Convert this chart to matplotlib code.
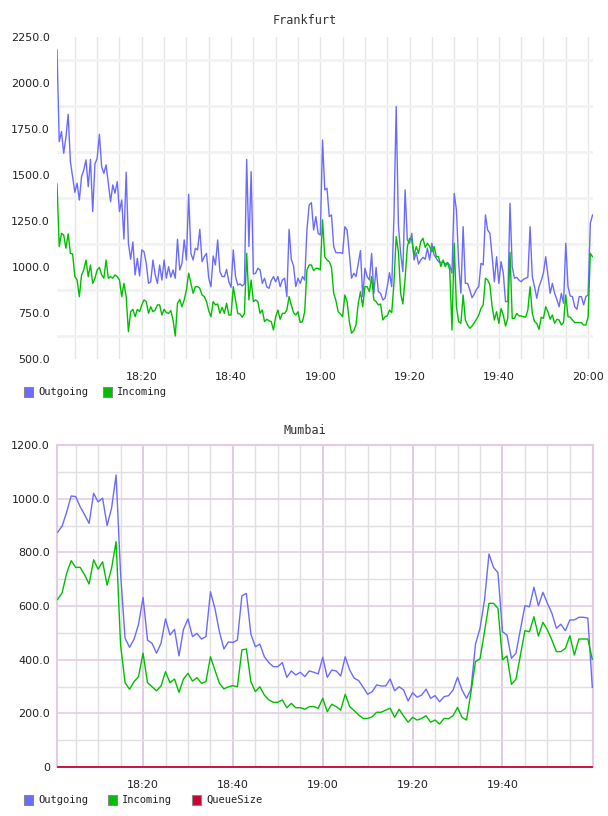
import numpy as np
import matplotlib
matplotlib.use("Agg")
import matplotlib.pyplot as plt
from matplotlib.patches import Rectangle

# Frankfurt: samples every 30 s starting 18:01
fra_out = [
    2180, 1681, 1736, 1618, 1705, 1830, 1573, 1491, 1406, 1455,
    1364, 1491, 1527, 1582, 1437, 1585, 1301, 1560, 1591, 1721,
    1546, 1509, 1555, 1455, 1355, 1446, 1401, 1464, 1301, 1364,
    1152, 1515, 1129, 1042, 1136, 957, 1047, 951, 1093, 1083,
    1020, 911, 920, 1038, 957, 911, 1011, 929, 1038, 939,
    1002, 944, 984, 939, 1151, 984, 1020, 1147, 1038, 1395,
    1074, 1038,
    1102, 1093, 1205, 1029, 1056, 1074, 939, 893, 1060, 1011,
    1147, 975, 948, 948, 987, 920, 890, 1093, 948, 902,
    908, 897, 908, 1585, 1111, 1518, 962, 966, 993, 984,
    911, 939, 893, 884, 926, 948, 920, 948, 893, 929,
    939, 839, 1205, 1042, 1006, 893, 939, 911, 948, 929,
    1201, 1337, 1350, 1201, 1274, 1183, 1174, 1690, 1419, 1428,
    1274,
    1283, 1111, 1078, 1078, 1078, 1074, 1219, 1201, 1074, 939,
    966, 948, 1020, 1089, 839, 993, 948, 929, 1074, 857,
    998, 866, 857, 821, 830, 893, 969, 893, 1274, 1872,
    1228, 1074, 975, 1419, 1147, 1129, 1183, 1038, 1078, 1016,
    1038, 1053, 1042, 1102, 1038, 1129, 1065, 1047, 1029, 1024,
    1029, 1016, 1024, 1011, 966, 1400, 1310, 1020, 857, 1219,
    911, 911, 875, 833, 853, 879, 893, 1020, 1011, 1283,
    1201, 1183, 1056, 920, 1056, 911, 1029, 966, 812, 812,
    1346, 1002, 939, 944, 929, 920, 933, 939, 944, 1219,
    948, 893, 830, 893, 926, 969, 1056, 957, 857, 911,
    857, 824, 784, 857, 803, 1129, 893, 842, 839, 784,
    770, 839, 839, 794, 839, 848, 1237, 1283,
]
fra_in = [
    1451, 1111, 1183, 1174, 1102, 1180, 1074, 1071, 948, 929,
    839, 957, 984, 1038, 948, 1011, 911, 939, 984, 998,
    957, 939, 1038, 939, 948, 939, 957, 948, 929, 839,
    911, 839, 649, 757, 770, 730, 770, 757, 794, 821,
    812, 748, 784, 757, 766, 794, 794, 739, 770, 752,
    748, 763, 712, 625, 803, 824, 784, 821, 875, 966,
    911, 857,
    893, 893, 884, 848, 839, 812, 763, 730, 812, 794,
    799, 748, 781, 748, 803, 739, 739, 893, 821, 748,
    745, 727, 748, 1074, 821, 929, 812, 821, 812, 748,
    766, 703, 716, 708, 703, 658, 730, 766, 716, 748,
    748, 766, 839, 794, 752, 739, 757, 698, 703, 757,
    984, 1011, 1011, 980, 993, 993, 984, 1256, 1056, 1038,
    1029,
    998, 857, 817, 757, 745, 730, 848, 812, 703, 640,
    654, 685, 803, 866, 784, 893, 893, 866, 948, 821,
    812, 794, 799, 712, 730, 734, 766, 752, 911, 1165,
    1083, 857, 799, 939, 1111, 1156, 1147, 1065, 1111, 1074,
    1138, 1156, 1107, 1129, 1111, 1083, 1111, 1056, 1056, 1002,
    1038, 1002, 1024, 984, 658, 1129, 784, 703, 694, 848,
    712, 685, 667, 679, 698, 716, 739, 775, 794, 939,
    929, 902, 784, 712, 757, 694, 775, 739, 679, 721,
    1080, 721, 721, 748, 734, 734, 730, 727, 766, 893,
    748, 703, 694, 661, 727, 721, 784, 757, 716, 739,
    694, 716, 712, 685, 698, 848, 730, 727, 712, 698,
    698, 698, 698, 685, 685, 727, 1074, 1056,
]

# Mumbai: one sample per minute, 18:01 .. 20:00
mum_out = [
    875, 898, 950, 1010, 1008, 970, 940, 908, 1020, 988,
    1002, 900, 965, 1088, 720, 480, 446, 476, 532, 632,
    473, 461, 424, 461, 552, 492, 513, 414, 513, 552,
    486, 498, 477, 486, 653, 591, 504, 440, 466, 464,
    473, 638, 647, 495, 448, 458, 411, 389, 374, 374,
    389, 334, 358, 343, 353, 337, 358, 353, 347, 409,
    334, 361, 358, 339, 411, 361, 331, 322, 297, 271,
    281, 306, 302, 302, 328, 284, 299, 287, 246, 277,
    260, 268, 290, 256, 266, 243, 262, 266, 287, 334,
    287, 256, 290, 458, 517, 622, 794, 744, 724, 504,
    492, 405, 424, 513, 601, 597, 670, 601, 651, 610,
    573, 517, 532, 508, 548, 548, 558, 558, 555, 297,
]
mum_in = [
    625, 650, 722, 769, 744, 744, 716, 682, 772, 737,
    765, 678, 741, 840, 455, 314, 290, 318, 337, 424,
    314, 299, 284, 302, 355, 314, 328, 278, 328, 349,
    320, 333, 312, 318, 411, 361, 312, 291, 299, 303,
    299, 436, 440, 318, 281, 299, 268, 250, 241, 241,
    250, 221, 237, 221, 221, 215, 225, 225, 219, 256,
    206, 234, 225, 212, 271, 225, 210, 194, 181, 181,
    187, 204, 204, 212, 219, 185, 215, 190, 167, 185,
    175, 181, 191, 167, 175, 160, 181, 180, 191, 222,
    185, 175, 280, 393, 403, 504, 610, 610, 591, 399,
    414, 308, 327, 417, 508, 504, 560, 488, 539, 511,
    473, 430, 430, 442, 489, 417, 477, 477, 477, 401,
]
mum_queue = [0] * len(mum_out)

fra_yticks = [500, 750, 1000, 1250, 1500, 1750, 2000, 2250]
fra_ygrid = [625, 875, 1125, 1375, 1625, 1875, 2125]
mum_yticks = [0, 200, 400, 600, 800, 1000, 1200]
mum_ygrid = [100, 300, 500, 700, 900, 1100]

BLUE = "#6b6bff"
GREEN = "#00bf00"
RED = "#cc0033"
PINK = "#e4cde4"
PINK_V = "#dcc3dc"
GRAY = "#e0e0e0"

fra_t = 1 + 0.5 * np.arange(len(fra_out))
mum_t = 1 + np.arange(len(mum_out))


def hm(m):
    return f"{18 + m // 60}:{m % 60:02d}"


W, H = 608, 816
fig = plt.figure(figsize=(W / 100, H / 100), dpi=100)


def box(l, t, r, b):
    return [l / W, 1 - b / H, (r - l) / W, (b - t) / H]


tick_font = dict(family="DejaVu Sans", size=8)
mono = "DejaVu Sans Mono"

# --- Frankfurt ---
ax1 = fig.add_axes(box(57, 37, 593, 359))
ax1.plot(fra_t, fra_out, color=BLUE, lw=1.0, zorder=3)
ax1.plot(fra_t, fra_in, color=GREEN, lw=1.0, zorder=3)
ax1.set_xlim(1, 121.1)
ax1.set_ylim(500, 2250)
ax1.set_yticks(fra_yticks)
ax1.set_yticklabels([f"{v:.1f}" for v in fra_yticks], **tick_font)
ax1.set_yticks(fra_ygrid, minor=True)
ax1.set_xticks([20, 40, 60, 80, 100, 120])
ax1.set_xticklabels([hm(m) for m in [20, 40, 60, 80, 100, 120]], **tick_font)
ax1.set_xticks(np.arange(5, 121, 5), minor=True)
ax1.yaxis.grid(True, which="minor", color="#f2f2f2", lw=2.0)
ax1.xaxis.grid(True, which="both", color="#e6e6e6", lw=1.0)
for s in ax1.spines.values():
    s.set_visible(False)
ax1.tick_params(length=0, which="both", colors="#222222")
ax1.tick_params(axis="x", pad=9)
ax1.tick_params(axis="y", pad=5)
ax1.set_axisbelow(True)
fig.text(305 / W, 1 - 20 / H, "Frankfurt", ha="center", va="center",
         family=mono, size=8.5, color="#333333")

# --- Mumbai ---
ax2 = fig.add_axes(box(57, 445, 593, 767))
ax2.plot(mum_t, mum_out, color=BLUE, lw=1.0, zorder=3)
ax2.plot(mum_t, mum_in, color=GREEN, lw=1.0, zorder=3)
ax2.plot(mum_t, mum_queue, color=RED, lw=1.3, zorder=4, clip_on=False)
ax2.set_xlim(0.85, 120.15)
ax2.set_ylim(0, 1200)
ax2.set_yticks(mum_yticks)
ax2.set_yticklabels(["0" if v == 0 else f"{v:.1f}" for v in mum_yticks], **tick_font)
ax2.set_yticks(mum_ygrid, minor=True)
ax2.set_xticks([20, 40, 60, 80, 100])
ax2.set_xticklabels([hm(m) for m in [20, 40, 60, 80, 100]], **tick_font)
ax2.set_xticks([m for m in range(5, 120, 5) if m % 20], minor=True)
ax2.yaxis.grid(True, which="major", color=PINK, lw=1.2)
ax2.yaxis.grid(True, which="minor", color=GRAY, lw=1.0)
ax2.xaxis.grid(True, which="major", color=PINK_V, lw=1.2)
ax2.xaxis.grid(True, which="minor", color=GRAY, lw=1.0)
for k in ["left", "top", "right"]:
    ax2.spines[k].set_color(PINK)
    ax2.spines[k].set_linewidth(1.5)
ax2.spines["bottom"].set_visible(False)
ax2.tick_params(length=0, which="both", colors="#222222")
ax2.tick_params(axis="x", pad=9)
ax2.tick_params(axis="y", pad=5)
ax2.set_axisbelow(True)
fig.text(305 / W, 1 - 430 / H, "Mumbai", ha="center", va="center",
         family=mono, size=8.5, color="#333333")


# --- legends ---
def legend_item(x, y, color, label):
    fig.add_artist(Rectangle((x / W, 1 - (y + 5) / H), 9 / W, 10 / H,
                             transform=fig.transFigure, facecolor=color,
                             edgecolor="#888888", lw=0.8))
    fig.text((x + 14) / W, 1 - y / H, label, ha="left", va="center",
             family=mono, size=7.5, color="#222222")


legend_item(24, 392, BLUE, "Outgoing")
legend_item(103, 392, GREEN, "Incoming")
legend_item(24, 800, BLUE, "Outgoing")
legend_item(108, 800, GREEN, "Incoming")
legend_item(192, 800, RED, "QueueSize")

fig.savefig("out.png", dpi=100, facecolor="white")
